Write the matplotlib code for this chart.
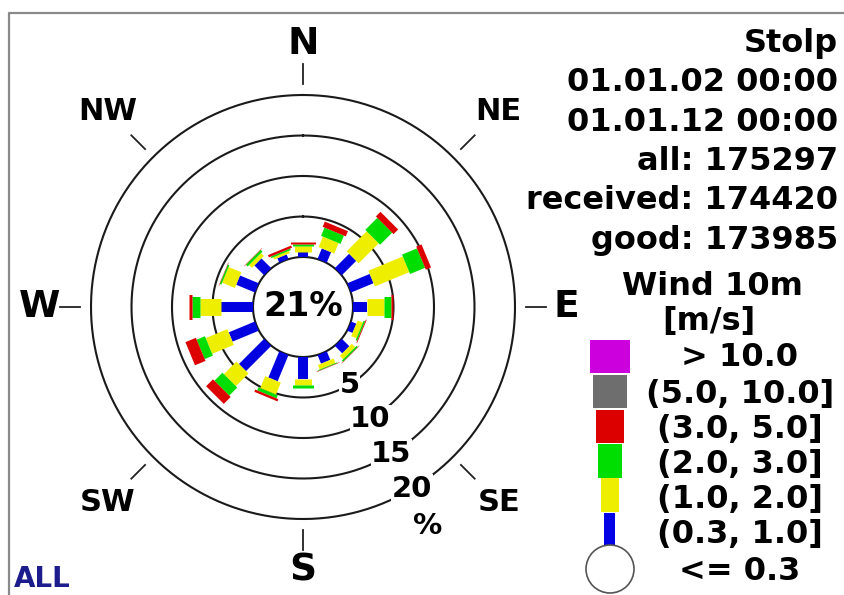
import numpy as np
import matplotlib
matplotlib.use("Agg")
import matplotlib.pyplot as plt
from matplotlib.patches import Rectangle, Circle

# ---------------- data ----------------
directions = ['N', 'NNE', 'NE', 'ENE', 'E', 'ESE', 'SE', 'SSE',
              'S', 'SSW', 'SW', 'WSW', 'W', 'WNW', 'NW', 'NNW']
dir_angles = [0, 22.5, 45, 67.5, 90, 112.5, 135, 157.5,
              180, 202.5, 225, 247.5, 270, 292.5, 315, 337.5]
# frequency [%] per speed class
f_03_10 = [0.6, 1.4, 2.5, 3.0, 1.7, 0.7, 1.3, 1.15, 2.7, 3.5, 4.4, 3.5, 4.0, 2.5, 1.7, 0.6]
f_10_20 = [0.8, 1.4, 3.5, 4.6, 2.1, 0.7, 0.6, 0.6, 0.8, 1.6, 2.2, 2.9, 2.5, 1.7, 0.5, 0.3]
f_20_30 = [0.2, 1.1, 2.1, 2.0, 0.9, 0.2, 0.2, 0.1, 0.3, 0.4, 1.4, 1.1, 1.0, 0.2, 0.3, 0.2]
f_30_50 = [0.2, 0.7, 0.8, 0.7, 0.25, 0.1, 0.05, 0.05, 0.05, 0.3, 1.2, 1.4, 0.4, 0.05, 0.05, 0.3]
calm_pct = 21
ring_values = [5, 10, 15, 20]

info_lines = ["Stolp", "01.01.02 00:00", "01.01.12 00:00",
              "all: 175297", "received: 174420", "good: 173985"]
legend_title = ["Wind 10m", "[m/s]"]
class_labels = ["> 10.0", "(5.0, 10.0]", "(3.0, 5.0]", "(2.0, 3.0]",
                "(1.0, 2.0]", "(0.3, 1.0]", "<= 0.3"]
compass_labels = ['N', 'NE', 'E', 'SE', 'S', 'SW', 'W', 'NW']
compass_angles = [0, 45, 90, 135, 180, 225, 270, 315]

# ---------------- style ----------------
W, H = 845, 595
cx, cy = 303, 307
R20 = 212
hole = 50
class_colors = ['#cc00dd', '#6e6e6e', '#dd0000', '#00dd00', '#eeee00', '#0000e6']
class_widths_px = [40, 34, 28, 24, 18, 11]
rose_widths_px = [10, 17, 21, 25]

fig = plt.figure(figsize=(W / 100, H / 100), dpi=100)
ov = fig.add_axes([0, 0, 1, 1])
ov.set_xlim(0, W)
ov.set_ylim(H, 0)
ov.axis('off')

# border
ov.plot([9, 9, W + 5], [H + 5, 13, 13], color='#8a8a8a', lw=1.6, clip_on=False)

ax = fig.add_axes([(cx - R20) / W, (H - cy - R20) / H, 2 * R20 / W, 2 * R20 / H],
                  projection='polar')
ax.set_theta_zero_location('N')
ax.set_theta_direction(-1)
ax.set_rlim(0, 20)
ax.set_rorigin(-20 * hole / (R20 - hole))
ax.axis('off')

th = np.linspace(0, 2 * np.pi, 500)
for v in [0] + ring_values:
    ax.plot(th, np.full_like(th, v), color='#1a1a1a', lw=1.5, clip_on=False, zorder=1)

px2pt = 0.72
series = [f_03_10, f_10_20, f_20_30, f_30_50]
rose_cols = ['#0000e0', '#eeee00', '#00dd00', '#dd0000']
for i, a in enumerate(dir_angles):
    t = np.deg2rad(a)
    start = 0.0
    for s, col, wpx in zip(series, rose_cols, rose_widths_px):
        v = s[i]
        ax.plot([t, t], [start, start + v], color=col, lw=wpx * px2pt,
                solid_capstyle='butt', zorder=3, clip_on=False)
        start += v

# ring labels
lab_t = np.deg2rad(149)
for v in ring_values:
    ax.text(lab_t, v, str(v), ha='center', va='center', fontsize=21,
            fontweight='bold', zorder=5,
            bbox=dict(fc='white', ec='none', pad=0.5))
ax.annotate('%', xy=(lab_t, 20), xytext=(11, -27), textcoords='offset points',
            ha='center', va='center', fontsize=21, fontweight='bold')

# compass ticks and labels
for lab, a in zip(compass_labels, compass_angles):
    t = np.deg2rad(a)
    ax.plot([t, t], [21.4, 23.8], color='#222222', lw=1.3, clip_on=False)
    if len(lab) == 1:
        r, fs = 26.3, 27
    else:
        r, fs = 28.0, 22
    ax.text(t, r, lab, ha='center', va='center', fontsize=fs, fontweight='bold')

ov.text(cx, cy, f"{calm_pct}%", ha='center', va='center', fontsize=24,
        fontweight='bold', zorder=6)

# right info text
for k, s in enumerate(info_lines):
    ov.text(838, 52 + k * 39.3, s, ha='right', va='baseline', fontsize=23,
            fontweight='bold')
ov.text(712, 295, legend_title[0], ha='center', va='baseline', fontsize=23, fontweight='bold')
ov.text(709, 330, legend_title[1], ha='center', va='baseline', fontsize=23, fontweight='bold')

# legend
rect_y = [340, 375, 410, 444, 478, 513]
rect_h = [33, 33, 33, 34, 34, 33]
for y0, h, wpx, col in zip(rect_y, rect_h, class_widths_px, class_colors):
    ov.add_patch(Rectangle((610 - wpx / 2, y0), wpx, h, color=col, lw=0))
ov.add_patch(Circle((610, 569), 24, fc='white', ec='#555555', lw=1.2))
base_y = [366, 403, 438, 473, 508, 543, 580]
for s, by in zip(class_labels, base_y):
    ov.text(740, by, s, ha='center', va='baseline', fontsize=23, fontweight='bold')

ov.text(14, 587, "ALL", ha='left', va='baseline', fontsize=20, fontweight='bold',
        color='#1c1c8c')

fig.savefig("out.png", dpi=100, facecolor='white')
